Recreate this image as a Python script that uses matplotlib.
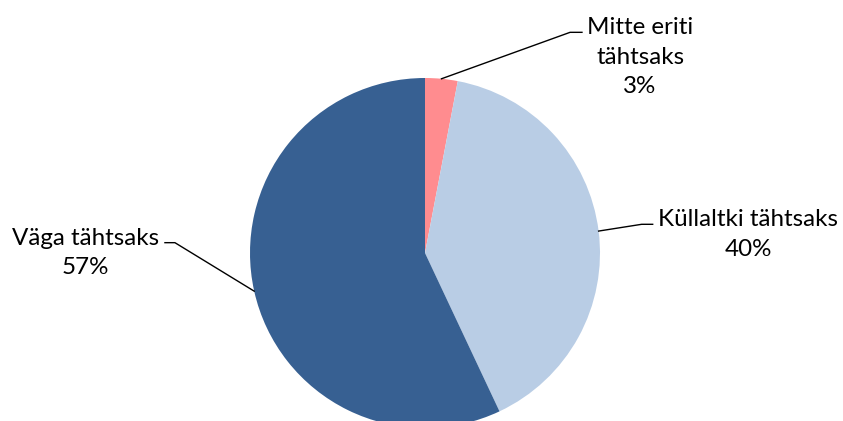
import numpy as np
import matplotlib.pyplot as plt

# Andmed
labels = ["Mitte eriti\ntähtsaks", "Küllaltki tähtsaks", "Väga tähtsaks"]
values = [3, 40, 57]
colors = ["#FF8C8F", "#B9CDE5", "#376092"]

# label text positions and leader elbow (in pie-radius units)
text_pos = [(1.229, 1.12), (1.846, 0.105), (-1.94, 0.0)]
elbow = [(0.829, 1.261), (1.238, 0.164), (-1.429, 0.059)]
elbow_end = [(0.897, 1.261), (1.301, 0.164), (-1.486, 0.059)]

fig = plt.figure(figsize=(8.43, 4.21), dpi=100)
ax = fig.add_axes([0, 0, 1, 1])

wedges, _ = ax.pie(values, colors=colors, startangle=90, counterclock=False,
                   radius=1, wedgeprops=dict(linewidth=0))

for i, w in enumerate(wedges):
    ang = np.deg2rad((w.theta1 + w.theta2) / 2)
    xa, ya = np.cos(ang), np.sin(ang)
    ax.plot([xa, elbow[i][0], elbow_end[i][0]], [ya, elbow[i][1], elbow_end[i][1]],
            color="black", linewidth=1)
    ax.text(text_pos[i][0], text_pos[i][1], f"{labels[i]}\n{values[i]}%",
            ha="center", va="center", multialignment="center",
            fontsize=17.4, family="Lato", linespacing=1.52)

ax.set_aspect("auto")
ax.set_xlim(-425 / 175, 418 / 175)
ax.set_ylim(-168 / 175, 253 / 175)
ax.axis("off")

fig.savefig("out.png", dpi=100)
